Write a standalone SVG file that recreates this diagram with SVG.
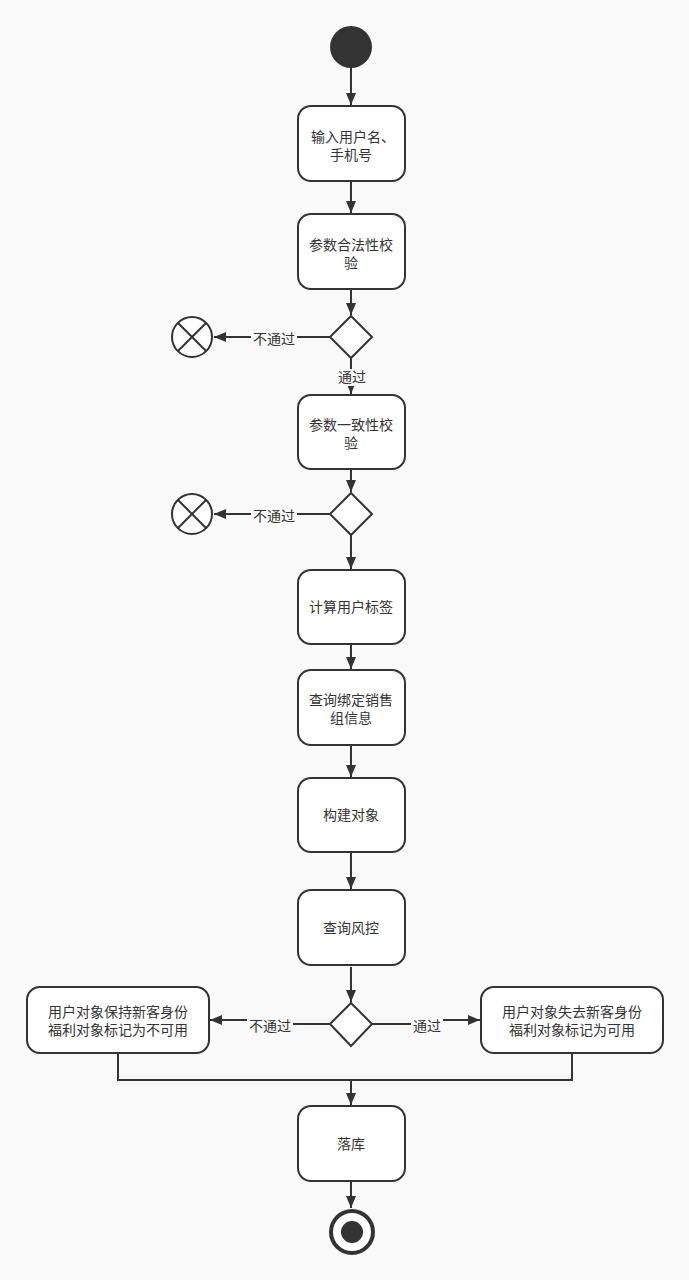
<svg xmlns="http://www.w3.org/2000/svg" width="689" height="1280" viewBox="0 0 689 1280">
  <style>
    .box { fill: #ffffff; stroke: #333333; stroke-width: 2; }
    .dia { fill: #ffffff; stroke: #333333; stroke-width: 2; }
    .t { font-family: "Liberation Sans", "Noto Sans CJK SC", sans-serif; font-size: 14px; fill: #333333; text-anchor: middle; }
    .edge { fill: none; stroke: #333333; stroke-width: 2; }
    .lblbg { fill: #f9f9f9; }
  </style>
  <defs>
    <marker id="arrow" viewBox="0 0 12 10" refX="12" refY="5" markerWidth="12" markerHeight="10" markerUnits="userSpaceOnUse" orient="auto">
      <path d="M0,0 L12,5 L0,10 Z" fill="#333333"/>
    </marker>
  </defs>
  <rect width="689" height="1280" fill="#f9f9f9"/>

  <g id="connectors">
    <line class="edge" x1="351" y1="68" x2="351" y2="105" marker-end="url(#arrow)"/>
    <line class="edge" x1="351" y1="181" x2="351" y2="213" marker-end="url(#arrow)"/>
    <line class="edge" x1="351" y1="289" x2="351" y2="315" marker-end="url(#arrow)"/>
    <line class="edge" x1="330" y1="337" x2="214" y2="337" marker-end="url(#arrow)"/>
    <line class="edge" x1="351" y1="358" x2="351" y2="394" marker-end="url(#arrow)"/>
    <line class="edge" x1="351" y1="469" x2="351" y2="492" marker-end="url(#arrow)"/>
    <line class="edge" x1="330" y1="514" x2="214" y2="514" marker-end="url(#arrow)"/>
    <line class="edge" x1="351" y1="535" x2="351" y2="569" marker-end="url(#arrow)"/>
    <line class="edge" x1="351" y1="644" x2="351" y2="669" marker-end="url(#arrow)"/>
    <line class="edge" x1="351" y1="745" x2="351" y2="777" marker-end="url(#arrow)"/>
    <line class="edge" x1="351" y1="852" x2="351" y2="889" marker-end="url(#arrow)"/>
    <line class="edge" x1="351" y1="967" x2="351" y2="1002" marker-end="url(#arrow)"/>
    <polyline class="edge" points="330,1024 270,1024 270,1020 210,1020" marker-end="url(#arrow)"/>
    <polyline class="edge" points="372,1024 427,1024 427,1020 480,1020" marker-end="url(#arrow)"/>
    <polyline class="edge" points="118,1053 118,1080 572,1080 572,1053"/>
    <line class="edge" x1="351" y1="1080" x2="351" y2="1105" marker-end="url(#arrow)"/>
    <line class="edge" x1="351" y1="1181" x2="351" y2="1208" marker-end="url(#arrow)"/>

    <rect class="lblbg" x="251" y="329" width="46" height="18"/>
    <text class="t" x="274" y="344">不通过</text>
    <rect class="lblbg" x="336" y="369" width="32" height="17"/>
    <text class="t" x="352" y="382">通过</text>
    <rect class="lblbg" x="251" y="506" width="46" height="18"/>
    <text class="t" x="274" y="521">不通过</text>
    <rect class="lblbg" x="247" y="1015" width="46" height="19"/>
    <text class="t" x="270" y="1031">不通过</text>
    <rect class="lblbg" x="411" y="1015" width="32" height="19"/>
    <text class="t" x="427" y="1031">通过</text>
  </g>

  <g id="start">
    <circle cx="351" cy="47" r="21" fill="#333333"/>
  </g>

  <g id="input">
    <rect class="box" x="298" y="106" width="107" height="75" rx="13"/>
    <text class="t" x="353" y="142">输入用户名、</text>
    <text class="t" x="351" y="160">手机号</text>
  </g>

  <g id="check-valid">
    <rect class="box" x="298" y="214" width="107" height="75" rx="13"/>
    <text class="t" x="351" y="250">参数合法性校</text>
    <text class="t" x="351" y="268">验</text>
  </g>

  <g id="decision-valid">
    <polygon class="dia" points="351,316 372,337 351,358 330,337"/>
  </g>

  <g id="reject-valid">
    <circle cx="192" cy="337" r="20" fill="#ffffff" stroke="#333333" stroke-width="2"/>
    <path d="M178,323 L206,351 M206,323 L178,351" stroke="#333333" stroke-width="2"/>
  </g>

  <g id="check-consistent">
    <rect class="box" x="298" y="395" width="107" height="74" rx="13"/>
    <text class="t" x="351" y="430">参数一致性校</text>
    <text class="t" x="351" y="448">验</text>
  </g>

  <g id="decision-consistent">
    <polygon class="dia" points="351,493 372,514 351,535 330,514"/>
  </g>

  <g id="reject-consistent">
    <circle cx="192" cy="514" r="20" fill="#ffffff" stroke="#333333" stroke-width="2"/>
    <path d="M178,500 L206,528 M206,500 L178,528" stroke="#333333" stroke-width="2"/>
  </g>

  <g id="tags">
    <rect class="box" x="298" y="570" width="107" height="74" rx="13"/>
    <text class="t" x="351" y="612">计算用户标签</text>
  </g>

  <g id="sales-group">
    <rect class="box" x="298" y="670" width="107" height="75" rx="13"/>
    <text class="t" x="351" y="705">查询绑定销售</text>
    <text class="t" x="351" y="723">组信息</text>
  </g>

  <g id="build">
    <rect class="box" x="298" y="778" width="107" height="74" rx="13"/>
    <text class="t" x="351" y="820">构建对象</text>
  </g>

  <g id="risk">
    <rect class="box" x="298" y="890" width="107" height="75" rx="13"/>
    <text class="t" x="351" y="933">查询风控</text>
  </g>

  <g id="decision-risk">
    <polygon class="dia" points="351,1003 372,1024 351,1046 330,1024"/>
  </g>

  <g id="keep-new">
    <rect class="box" x="27" y="987" width="182" height="66" rx="13"/>
    <text class="t" x="118" y="1017">用户对象保持新客身份</text>
    <text class="t" x="118" y="1035">福利对象标记为不可用</text>
  </g>

  <g id="lose-new">
    <rect class="box" x="481" y="987" width="182" height="66" rx="13"/>
    <text class="t" x="572" y="1017">用户对象失去新客身份</text>
    <text class="t" x="572" y="1035">福利对象标记为可用</text>
  </g>

  <g id="save">
    <rect class="box" x="298" y="1106" width="107" height="75" rx="13"/>
    <text class="t" x="351" y="1149">落库</text>
  </g>

  <g id="end">
    <circle cx="352" cy="1232" r="21" fill="#ffffff" stroke="#333333" stroke-width="4"/>
    <circle cx="352" cy="1232" r="11" fill="#333333"/>
  </g>
</svg>
